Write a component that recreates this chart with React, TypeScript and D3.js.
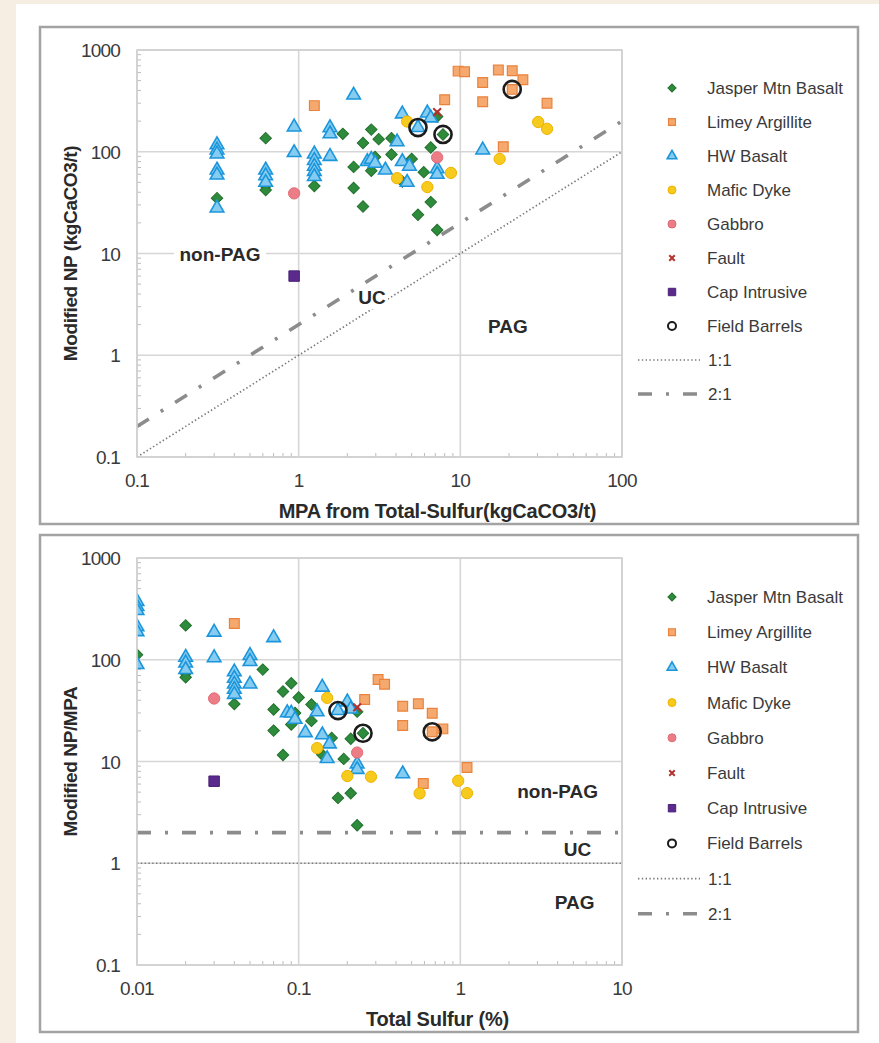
import React from "react";
import * as d3 from "d3";

// MPA (kgCaCO3/t) = 31.25 x total sulfur (%)
const MPA_PER_S = 31.25;

// sulfur (%) and modified NP (kgCaCO3/t) for each lithology
const jasperS = [0.01, 0.02, 0.02, 0.02, 0.04, 0.06, 0.07, 0.07, 0.08, 0.08, 0.09, 0.09, 0.095, 0.1, 0.12, 0.12, 0.14, 0.16, 0.175, 0.19, 0.21, 0.21, 0.23, 0.23, 0.25];
const jasperNP = [35, 136, 46, 42, 46, 150, 71, 44, 122, 29, 165, 65, 89, 133, 136, 94, 51, 85, 24, 63, 110, 32, 17, 222, 148];

const limeyS = [0.04, 0.256, 0.31, 0.34, 0.44, 0.44, 0.55, 0.59, 0.67, 0.67, 0.78, 1.1];
const limeyNP = [284, 325, 620, 610, 480, 310, 635, 112, 625, 410, 510, 300];

const hwS = [0.01, 0.01, 0.01, 0.01, 0.01, 0.01, 0.02, 0.02, 0.02, 0.03, 0.03, 0.04, 0.04, 0.04, 0.04, 0.04, 0.05, 0.05, 0.05, 0.07, 0.085, 0.09, 0.095, 0.11, 0.13, 0.14, 0.14, 0.15, 0.155, 0.175, 0.2, 0.21, 0.23, 0.23, 0.44];
const hwNP = [117, 104, 95, 66, 59, 28, 66, 58, 50, 175, 98, 95, 82, 72, 64, 57, 172, 150, 90, 360, 80, 84, 77, 66, 125, 235, 80, 50, 72, 173, 240, 215, 68, 60, 104];

const maficS = [0.13, 0.15, 0.2, 0.28, 0.56, 0.97, 1.1];
const maficNP = [55, 198, 45, 62, 85, 196, 168];

const gabbroS = [0.03, 0.23];
const gabbroNP = [39, 88];

const faultS = [0.23];
const faultNP = [245];

const capS = [0.03];
const capNP = [6];

const barrelS = [0.175, 0.25, 0.67];
const barrelNP = [173, 148, 410];

const criteria = [1, 2];
const criteriaLabels = ["1:1", "2:1"];

const topXTicks = [0.1, 1, 10, 100];
const bottomXTicks = [0.01, 0.1, 1, 10];
const yTicks = [0.1, 1, 10, 100, 1000];

const series = [
  { name: "Jasper Mtn Basalt", s: jasperS, np: jasperNP, shape: "diamond", area: 66, fill: "#2e8b3c", stroke: "#22702e", sw: 1 },
  { name: "Limey Argillite", s: limeyS, np: limeyNP, shape: "square", area: 95, fill: "#f6a96e", stroke: "#e9823c", sw: 1.2 },
  { name: "HW Basalt", s: hwS, np: hwNP, shape: "triangle", area: 80, fill: "#86cbf0", stroke: "#1b96dc", sw: 1.6 },
  { name: "Mafic Dyke", s: maficS, np: maficNP, shape: "circle", area: 100, fill: "#f7cb1e", stroke: "#efb200", sw: 1 },
  { name: "Gabbro", s: gabbroS, np: gabbroNP, shape: "circle", area: 100, fill: "#ec7d86", stroke: "#e06a74", sw: 1 },
  { name: "Fault", s: faultS, np: faultNP, shape: "x", area: 60, fill: "none", stroke: "#b3322e", sw: 2 },
  { name: "Cap Intrusive", s: capS, np: capNP, shape: "square", area: 110, fill: "#5a2a8c", stroke: "#4b2178", sw: 1 },
  { name: "Field Barrels", s: barrelS, np: barrelNP, shape: "circle", area: 230, fill: "none", stroke: "#1b1b1b", sw: 2.6 },
];

const FONT = "'Liberation Sans', Arial, Helvetica, sans-serif";
const PLOT_L = 137;
const PLOT_R = 622;

function symbolD(shape: string, area: number) {
  if (shape === "x") {
    const r = Math.sqrt(area) / 2;
    return `M${-r},${-r}L${r},${r}M${-r},${r}L${r},${-r}`;
  }
  const t =
    shape === "square" || shape === "diamond"
      ? d3.symbolSquare
      : shape === "triangle"
      ? d3.symbolTriangle
      : d3.symbolCircle;
  return d3.symbol().type(t).size(area)() as string;
}

function Marker({ sr, cx, cy, k = 1 }: any) {
  const rot = sr.shape === "diamond" ? " rotate(45)" : "";
  const inLegend = sr.name === "Field Barrels" && k < 1;
  return (
    <path
      d={symbolD(sr.shape, sr.area * k)}
      transform={`translate(${cx},${cy})${rot}`}
      fill={sr.fill}
      stroke={sr.stroke}
      strokeWidth={inLegend ? 2 : sr.sw}
    />
  );
}

function Panel(props: any) {
  const { top, bottom, plotTop, plotBottom, xDomain, xTicks, xVal, yVal, isRatio, xTitle, yTitle, legendTop, legendStep, regions } = props;
  const x = d3.scaleLog().domain(xDomain).range([PLOT_L, PLOT_R]);
  const y = d3.scaleLog().domain([0.1, 1000]).range([plotBottom, plotTop]);
  const clipId = `clip-${top}`;
  const minorX = x.ticks().filter((v) => !xTicks.some((t: number) => Math.abs(t - v) < t * 1e-6));
  const minorY = y.ticks().filter((v) => !yTicks.some((t: number) => Math.abs(t - v) < t * 1e-6));

  const critLine = (k: number) => {
    const pts: [number, number][] = isRatio
      ? [[xDomain[0], k], [xDomain[1], k]]
      : [[xDomain[0], xDomain[0] * k], [xDomain[1], xDomain[1] * k]];
    return d3.line<[number, number]>().x((d) => x(d[0])).y((d) => y(d[1]))(pts) as string;
  };
  const critStyle = [
    { stroke: "#7a7a7a", width: 1.7, dash: "1.4,2.4" },
    { stroke: "#8c8c8c", width: 3.6, dash: "14,14,3,14" },
  ];

  const midY = (plotTop + plotBottom) / 2;
  const legendX = 672;

  return (
    <g>
      <rect x={40} y={top} width={818} height={bottom - top} fill="#fff" stroke="#a3a3a3" strokeWidth={2.5} />
      <clipPath id={clipId}>
        <rect x={PLOT_L} y={plotTop} width={PLOT_R - PLOT_L} height={plotBottom - plotTop} />
      </clipPath>
      {/* grid */}
      {xTicks.map((t: number) => (
        <line key={"gx" + t} x1={x(t)} x2={x(t)} y1={plotTop} y2={plotBottom} stroke="#d6d6d6" strokeWidth={1.6} />
      ))}
      {yTicks.map((t: number) => (
        <line key={"gy" + t} x1={PLOT_L} x2={PLOT_R} y1={y(t)} y2={y(t)} stroke="#d6d6d6" strokeWidth={1.6} />
      ))}
      {minorX.map((t: number) => (
        <line key={"mx" + t} x1={x(t)} x2={x(t)} y1={plotBottom} y2={plotBottom - 4} stroke="#bdbdbd" strokeWidth={1} />
      ))}
      {minorY.map((t: number) => (
        <line key={"my" + t} x1={PLOT_L} x2={PLOT_L + 4} y1={y(t)} y2={y(t)} stroke="#bdbdbd" strokeWidth={1} />
      ))}
      {/* tick labels */}
      {xTicks.map((t: number) => (
        <text key={"tx" + t} x={x(t)} y={plotBottom + 30} textAnchor="middle" fontSize={19} letterSpacing={-0.8} fill="#3a3a3a" fontFamily={FONT}>
          {String(t)}
        </text>
      ))}
      {yTicks.map((t: number) => (
        <text key={"ty" + t} x={120} y={y(t) + 7} textAnchor="end" fontSize={19} letterSpacing={-0.8} fill="#3a3a3a" fontFamily={FONT}>
          {String(t)}
        </text>
      ))}
      <text x={(PLOT_L + PLOT_R) / 2 + 58} y={plotBottom + 61} textAnchor="middle" fontSize={20} fontWeight="bold" letterSpacing={-0.2} fill="#2a2a2a" fontFamily={FONT}>
        {xTitle}
      </text>
      <text transform={`translate(77,${midY}) rotate(-90)`} textAnchor="middle" fontSize={19} fontWeight="bold" letterSpacing={-0.4} fill="#2a2a2a" fontFamily={FONT}>
        {yTitle}
      </text>
      {/* criteria lines */}
      <g clipPath={`url(#${clipId})`}>
        {criteria.map((k, i) => (
          <path key={"c" + k} d={critLine(k)} fill="none" stroke={critStyle[i].stroke} strokeWidth={critStyle[i].width} strokeDasharray={critStyle[i].dash} />
        ))}
      </g>
      {/* region labels */}
      {regions.map((r: any) => {
        const cx = x(r.x);
        const cy = y(r.y);
        const w = r.label.length * 12 + 8;
        return (
          <g key={r.label}>
            {r.bg && <rect x={cx - w / 2} y={cy - 12} width={w} height={24} fill="#fff" />}
            <text x={cx} y={cy + 7} textAnchor="middle" fontSize={19} fontWeight="bold" fill="#2a2a2a" fontFamily={FONT}>
              {r.label}
            </text>
          </g>
        );
      })}
      {/* points */}
      <g clipPath={`url(#${clipId})`}>
        {series.map((sr) => (
          <g key={sr.name}>
            {sr.s.map((s, i) => (
              <Marker key={i} sr={sr} cx={x(xVal(s, sr.np[i]))} cy={y(yVal(s, sr.np[i]))} />
            ))}
          </g>
        ))}
      </g>
      {/* plot frame */}
      <rect x={PLOT_L} y={plotTop} width={PLOT_R - PLOT_L} height={plotBottom - plotTop} fill="none" stroke="#d0d0d0" strokeWidth={1.6} />
      {/* legend */}
      {series.map((sr, i) => {
        const ly = legendTop + i * legendStep;
        return (
          <g key={"lg" + sr.name}>
            <Marker sr={sr} cx={legendX} cy={ly} k={sr.name === "Field Barrels" ? 0.22 : 0.5} />
            <text x={legendX + 35} y={ly + 6} fontSize={17} fill="#3a3a3a" fontFamily={FONT}>
              {sr.name}
            </text>
          </g>
        );
      })}
      {criteria.map((k, i) => {
        const ly = legendTop + (series.length + i) * legendStep;
        return (
          <g key={"lgc" + k}>
            <line x1={638} x2={700} y1={ly} y2={ly} stroke={critStyle[i].stroke} strokeWidth={critStyle[i].width} strokeDasharray={i === 1 ? "14,14,3,14" : critStyle[i].dash} />
            <text x={legendX + 36} y={ly + 6} fontSize={17} fill="#3a3a3a" fontFamily={FONT}>
              {criteriaLabels[i]}
            </text>
          </g>
        );
      })}
    </g>
  );
}

export default function App() {
  return (
    <svg width={879} height={1043} style={{ position: "absolute", left: 0, top: 0, background: "#fff" }}>
      <rect x={0} y={0} width={879} height={1043} fill="#f6ede3" />
      <rect x={16} y={4} width={863} height={1039} fill="#fff" />
      <Panel
        top={27}
        bottom={524}
        plotTop={50}
        plotBottom={457}
        xDomain={[0.1, 100]}
        xTicks={topXTicks}
        xVal={(s: number) => s * MPA_PER_S}
        yVal={(s: number, np: number) => np}
        isRatio={false}
        xTitle="MPA from Total-Sulfur(kgCaCO3/t)"
        yTitle="Modified NP (kgCaCO3/t)"
        legendTop={88}
        legendStep={34}
        regions={[
          { label: "non-PAG", x: 0.326, y: 10, bg: true },
          { label: "UC", x: 2.84, y: 3.7, bg: true },
          { label: "PAG", x: 19.7, y: 1.94, bg: false },
        ]}
      />
      <Panel
        top={535}
        bottom={1032}
        plotTop={558}
        plotBottom={965}
        xDomain={[0.01, 10]}
        xTicks={bottomXTicks}
        xVal={(s: number) => s}
        yVal={(s: number, np: number) => np / (s * MPA_PER_S)}
        isRatio={true}
        xTitle="Total Sulfur (%)"
        yTitle="Modified NP/MPA"
        legendTop={597}
        legendStep={35.2}
        regions={[
          { label: "non-PAG", x: 4.0, y: 5.1, bg: false },
          { label: "UC", x: 5.3, y: 1.38, bg: false },
          { label: "PAG", x: 5.1, y: 0.42, bg: false },
        ]}
      />
    </svg>
  );
}
